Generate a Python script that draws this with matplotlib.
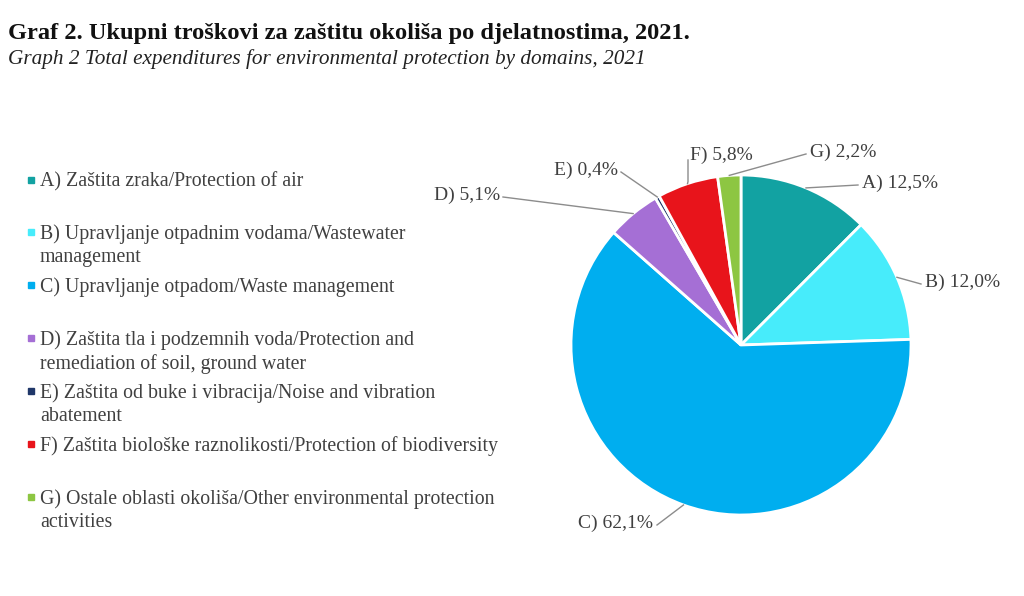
import numpy as np
import matplotlib.pyplot as plt

plt.rcParams['font.family'] = ['Liberation Serif', 'DejaVu Serif']

codes = ["A", "B", "C", "D", "E", "F", "G"]
shares = [12.5, 12.0, 62.1, 5.1, 0.4, 5.8, 2.2]
legend_labels = [
    "A) Zaštita zraka/Protection of air",
    "B) Upravljanje otpadnim vodama/Wastewater\nmanagement",
    "C) Upravljanje otpadom/Waste management",
    "D) Zaštita tla i podzemnih voda/Protection and\nremediation of soil, ground water",
    "E) Zaštita od buke i vibracija/Noise and vibration\nabatement",
    "F) Zaštita biološke raznolikosti/Protection of biodiversity",
    "G) Ostale oblasti okoliša/Other environmental protection\nactivities",
]
colors = ["#12a2a2", "#47ecfb", "#00aeef", "#a56fd5", "#1f3769", "#e8141b", "#8dc642"]

W, H = 1024, 596
fig = plt.figure(figsize=(W / 100, H / 100), dpi=100)

fig.text(8 / W, 1 - 33 / H, "Graf 2. Ukupni troškovi za zaštitu okoliša po djelatnostima, 2021.",
         fontsize=17.6, fontweight='bold', color='#111111', va='center')
fig.text(8 / W, 1 - 59 / H, "Graph 2 Total expenditures for environmental protection by domains, 2021",
         fontsize=15.3, style='italic', color='#222222', va='center')

# legend (first line centre y of each entry in pixels)
legend_y = [180, 232, 285, 338, 391, 444, 497]
for lab, col, y in zip(legend_labels, colors, legend_y):
    fig.patches.append(plt.Rectangle((28 / W, 1 - (y + 3) / H), 6 / W, 6 / H,
                                     transform=fig.transFigure, color=col))
    fig.text(40 / W, 1 - (y - 8) / H, lab, fontsize=14.3, color='#404040', va='top',
             linespacing=1.3)

# pie
cx, cy, r = 741, 345, 170
ax = fig.add_axes([(cx - r) / W, (H - cy - r) / H, 2 * r / W, 2 * r / H])
wedges, _ = ax.pie(shares, colors=colors, startangle=90, counterclock=False,
                   wedgeprops=dict(edgecolor='white', linewidth=2))
ax.set_xlim(-1, 1)
ax.set_ylim(-1, 1)
ax.set_aspect('equal')

# label text anchor in pixels (x, y, ha) and x where the leader meets the text
label_pos = {
    "A": (862, 183, 'left', 858),
    "B": (925, 282, 'left', 921),
    "C": (653, 523, 'right', 657),
    "D": (500, 195, 'right', 503),
    "E": (618, 170, 'right', 621),
    "F": (690, 155, 'left', 688),
    "G": (810, 152, 'left', 806),
}
for w, code, val in zip(wedges, codes, shares):
    ang = np.deg2rad((w.theta1 + w.theta2) / 2)
    px = cx + r * np.cos(ang)
    py = cy - r * np.sin(ang)
    tx, ty, ha, lx = label_pos[code]
    txt = f"{code}) {val:.1f}%".replace('.', ',')
    fig.text(tx / W, 1 - ty / H, txt, fontsize=14, color='#404040', ha=ha, va='center')
    if code == "F":
        xs, ys = [lx, lx, px], [ty + 5, py - 2, py]
    else:
        xs, ys = [px, lx], [py, ty + 2]
    fig.add_artist(plt.Line2D(np.array(xs) / W, 1 - np.array(ys) / H,
                              transform=fig.transFigure, color='#8c8c8c', linewidth=1))

fig.savefig("out.png", dpi=100, facecolor='white')
